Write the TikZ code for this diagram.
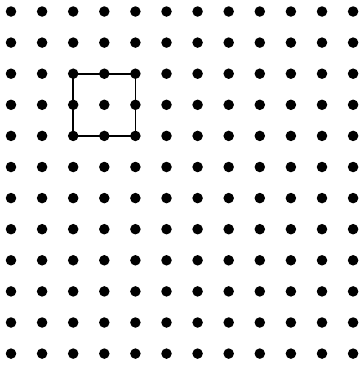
\documentclass[tikz,border=0pt]{standalone}
\begin{document}
\begin{tikzpicture}[x=1pt,y=1pt,
  dotnode/.style={circle,fill=black,inner sep=0pt,minimum size=10.5pt},
  sqline/.style={line width=1.8pt,black}]
\useasboundingbox (0,0) rectangle (362,-367);
\foreach \i in {0,...,11}{
  \foreach \j in {0,...,11}{
    \coordinate (c-\i-\j) at ({11+31.1*\i},{-(11.5+31.1*\j)});
  }
}
\draw[sqline] (c-2-2) -- (c-4-2) -- (c-4-4) -- (c-2-4) -- cycle;
\foreach \i in {0,...,11}{
  \foreach \j in {0,...,11}{
    \node[dotnode] (d-\i-\j) at (c-\i-\j) {};
  }
}
\end{tikzpicture}
\end{document}
